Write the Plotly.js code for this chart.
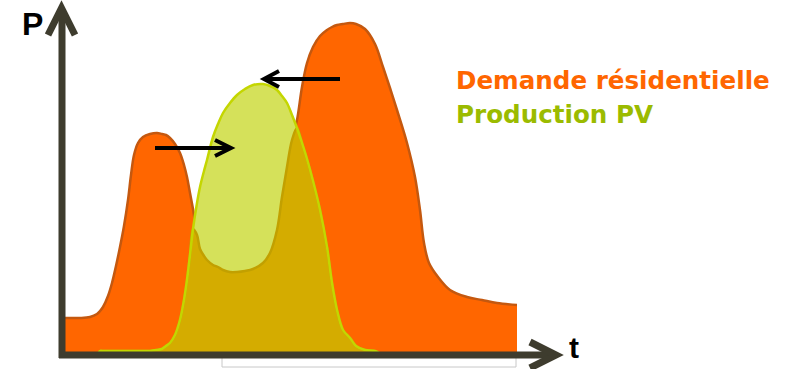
<!DOCTYPE html>
<html>
<head>
<meta charset="utf-8">
<script src="https://cdn.plot.ly/plotly-3.0.1.min.js"></script>
<style>
html,body{margin:0;padding:0;background:#fff;}
#chart{width:792px;height:369px;}
</style>
</head>
<body>
<div id="chart"></div>
<script>
// time grid (arbitrary units)
const t = [62,70,80,90,97,100,103,108,112,116,120,124,128,131,134,138,143,150,157,162,166,170,175,180,184,187,190,193,197,200,204,207,213,218,223,230,237,245,253,263,270,277,282,287,292,297,302,307,313,320,327,332,337,343,350,356,365,375,383,390,397,407,415,420,424,429,438,450,467,482,497,517];
// residential demand
const demande = [37,37,37,38,41,44,48,59,72,89,108,129,155,180,200,212,218,221,222,221,220,217,211,202,190,178,162,146,120,106,99,95,90,88,85,83,83,84,86,92,102,125,158,188,215,235,268,292,308,319,325,328,330,331,332,331,326,311,288,267,245,212,178,145,112,92,78,65,58,55,52,50];
// PV production
const production = [0,0,0,0,0,4,4,4,4,4,4,4,4,4,4,4,4,4,5,6,9,12,20,35,55,75,100,126,152,168,184,195,218,231,242,252,260,266,270,271,269,265,259,252,240,227,212,196,174,145,108,72,45,25,17,9,5,4,0,0,0,0,0,0,0,0,0,0,0,0,0,0];
// self-consumed part (overlap)
const overlap = demande.map((d, i) => Math.min(d, production[i]));

const labelDemande = "Demande résidentielle";
const labelPV = "Production PV";

const axisCol = "#3E3C2E";
const sm = 1.0;
const traces = [
  {x: t, y: demande, type: "scatter", mode: "lines", fill: "tozeroy",
   fillcolor: "#FF6600", line: {color: "#C4580F", width: 2.5, shape: "spline", smoothing: sm}, hoverinfo: "skip"},
  {x: t, y: production, type: "scatter", mode: "lines", fill: "tozeroy",
   fillcolor: "#D5E15A", line: {color: "rgba(0,0,0,0)", width: 0, shape: "spline", smoothing: sm}, hoverinfo: "skip"},
  {x: t, y: overlap, type: "scatter", mode: "lines", fill: "tozeroy",
   fillcolor: "#D4AC00", line: {color: "#C2A000", width: 2.5, shape: "spline", smoothing: sm}, hoverinfo: "skip"},
  {x: t, y: production, type: "scatter", mode: "lines",
   line: {color: "#C4D600", width: 2.5, shape: "spline", smoothing: sm}, hoverinfo: "skip"}
];

const layout = {
  width: 792, height: 369,
  margin: {l: 0, r: 0, t: 0, b: 0},
  paper_bgcolor: "#ffffff", plot_bgcolor: "#ffffff",
  showlegend: false,
  xaxis: {range: [0, 792], visible: false, fixedrange: true},
  yaxis: {range: [-14, 355], visible: false, fixedrange: true},
  shapes: [
    {type: "rect", xref: "x", yref: "y", x0: 222, x1: 516, y0: 0, y1: -12, line: {color: "#C8C8C8", width: 1}, layer: "below"},
    {type: "line", xref: "x", yref: "y", x0: 62, x1: 62, y0: -3, y1: 346, line: {color: axisCol, width: 7}},
    {type: "path", xref: "x", yref: "y", path: "M 48,320 L 61.5,347 L 75,320", line: {color: axisCol, width: 7}},
    {type: "line", xref: "x", yref: "y", x0: 59, x1: 555, y0: 0, y1: 0, line: {color: axisCol, width: 7}},
    {type: "path", xref: "x", yref: "y", path: "M 530,13 L 556,0 L 530,-13", line: {color: axisCol, width: 7}},
    {type: "line", xref: "x", yref: "y", x0: 155, x1: 230, y0: 207, y1: 207, line: {color: "#000", width: 4}},
    {type: "path", xref: "x", yref: "y", path: "M 215,215 L 231,207 L 215,199", line: {color: "#000", width: 4}},
    {type: "line", xref: "x", yref: "y", x0: 340, x1: 265, y0: 276, y1: 276, line: {color: "#000", width: 4}},
    {type: "path", xref: "x", yref: "y", path: "M 279,284 L 264,276 L 279,268", line: {color: "#000", width: 4}}
  ],
  annotations: [
    {xref: "x", yref: "y", x: 32, y: 331, text: "<b>P</b>", showarrow: false, xanchor: "center", yanchor: "middle",
     font: {family: "Liberation Sans, Arial, sans-serif", size: 32, color: "#000"}},
    {xref: "x", yref: "y", x: 574, y: 8, text: "<b>t</b>", showarrow: false, xanchor: "center", yanchor: "middle",
     font: {family: "Liberation Sans, Arial, sans-serif", size: 30, color: "#000"}},
    {xref: "x", yref: "y", x: 454, y: 275, text: "<b>" + labelDemande + "</b>", showarrow: false, xanchor: "left", yanchor: "middle",
     font: {family: "DejaVu Sans, sans-serif", size: 24.6, color: "#FF6600"}},
    {xref: "x", yref: "y", x: 454, y: 241, text: "<b>" + labelPV + "</b>", showarrow: false, xanchor: "left", yanchor: "middle",
     font: {family: "DejaVu Sans, sans-serif", size: 24.6, color: "#9BBB00"}}
  ]
};

Plotly.newPlot("chart", traces, layout, {displayModeBar: false, staticPlot: true});
</script>
</body>
</html>
